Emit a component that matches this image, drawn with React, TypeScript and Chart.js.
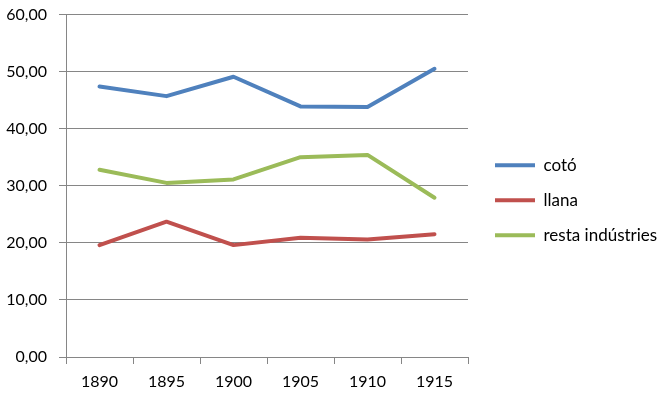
import React, { useEffect, useRef } from "react";
import { Chart, registerables } from "chart.js";

Chart.register(...registerables);

const categories = ["1890", "1895", "1900", "1905", "1910", "1915"];
const cotoValues = [47.4, 45.7, 49.1, 43.9, 43.8, 50.5];
const llanaValues = [19.6, 23.7, 19.6, 20.9, 20.6, 21.5];
const restaValues = [32.8, 30.5, 31.1, 35.0, 35.4, 27.9];
const seriesNames = ["cotó", "llana", "resta indústries"];
const yTicks = [0, 10, 20, 30, 40, 50, 60];

const FONT = "Lato, 'Open Sans', sans-serif";

const legendWidthPlugin = {
  id: "legendWidth",
  beforeLayout(chart: any) {
    const lg = chart.legend;
    if (lg && !lg.__patched) {
      const origFit = lg.fit.bind(lg);
      lg.fit = () => {
        origFit();
        lg.width = 199;
      };
      lg.__patched = true;
    }
  },
};

export default function App() {
  const ref = useRef<HTMLCanvasElement | null>(null);

  useEffect(() => {
    if (!ref.current) return;
    const mk = (label: string, data: number[], color: string) => ({
      label,
      data,
      borderColor: color,
      backgroundColor: color,
      borderWidth: 4,
      borderJoinStyle: "round" as const,
      borderCapStyle: "round" as const,
      pointRadius: 0,
      pointHoverRadius: 0,
      tension: 0,
      fill: false,
    });
    const chart = new Chart(ref.current, {
      type: "line",
      data: {
        labels: categories,
        datasets: [
          mk(seriesNames[0], cotoValues, "#4F81BD"),
          mk(seriesNames[1], llanaValues, "#C0504D"),
          mk(seriesNames[2], restaValues, "#9BBB59"),
        ],
      },
      plugins: [legendWidthPlugin],
      options: {
        animation: false,
        responsive: false,
        maintainAspectRatio: false,
        layout: { padding: { top: 6, left: 0, right: 0, bottom: 0 } },
        plugins: {
          tooltip: { enabled: false },
          legend: {
            position: "right",
            align: "center",
            fullSize: false,
            title: {
              display: true,
              text: "",
              padding: 0,
              font: { family: FONT, size: 16, lineHeight: 20 / 16 },
            },
            labels: {
              boxWidth: 40,
              boxHeight: 4,
              padding: 27,
              color: "#000",
              font: { family: FONT, size: 17, lineHeight: 8 / 17 },
              generateLabels: (c: any) => {
                const items = (Chart.defaults as any).plugins.legend.labels.generateLabels(c);
                return items.map((it: any) => ({ ...it, text: [it.text], lineWidth: 0 }));
              },
            },
          },
        },
        scales: {
          x: {
            type: "category",
            offset: true,
            afterFit: (s: any) => {
              s.height = 41;
            },
            grid: {
              offset: true,
              drawOnChartArea: false,
              drawTicks: true,
              tickLength: 7,
              color: "#868686",
              lineWidth: 1,
            },
            border: { display: true, color: "#868686", width: 1 },
            ticks: {
              color: "#000",
              padding: 8,
              maxRotation: 0,
              font: { family: FONT, size: 16 },
            },
          },
          y: {
            min: 0,
            max: 60,
            afterFit: (s: any) => {
              s.width = 66;
              s.paddingTop = 14.5;
            },
            afterBuildTicks: (s: any) => {
              s.ticks = yTicks.map((v) => ({ value: v }));
            },
            grid: {
              color: "#868686",
              lineWidth: 1,
              drawTicks: true,
              tickLength: 7,
            },
            border: { display: true, color: "#868686", width: 1 },
            ticks: {
              color: "#000",
              padding: 12,
              font: { family: FONT, size: 16 },
              callback: (v: any) => Number(v).toFixed(2).replace(".", ","),
            },
          },
        },
      },
    });
    return () => chart.destroy();
  }, []);

  return (
    <div style={{ position: "fixed", left: 0, top: 0, width: 667, height: 398, background: "#fff" }}>
      <canvas ref={ref} width={667} height={398} style={{ width: 667, height: 398, display: "block" }} />
    </div>
  );
}
